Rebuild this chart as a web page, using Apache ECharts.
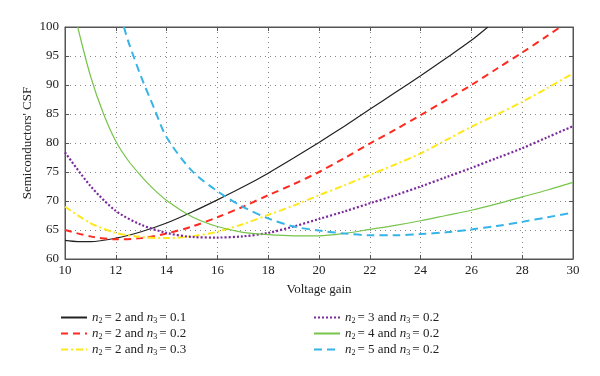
<!DOCTYPE html>
<html>
<head>
<meta charset="utf-8">
<script src="https://cdn.jsdelivr.net/npm/echarts@6/dist/echarts.min.js"></script>
<style>
  html, body { margin: 0; padding: 0; background: #fff; }
  #chart { width: 600px; height: 376px; }
</style>
</head>
<body>
<div id="chart"></div>
<script>
// [voltage gain, CSF]
var n2_2_n3_01 = [[10, 63.2], [10.5, 63.0], [11, 63.0], [12, 63.6], [13, 64.7], [14, 66.2], [15, 68.1], [16, 70.2],
    [17, 72.4], [18, 74.8], [19, 77.4], [20, 80.1], [21, 82.9], [22, 85.8], [23, 88.7], [24, 91.6], [25, 94.6],
    [26, 97.7], [26.65, 100]];
var n2_2_n3_02 = [[10, 65.0], [11, 63.9], [12, 63.4], [13, 63.6], [14, 64.4], [15, 65.6], [16, 67.2], [17, 69.0],
    [18, 71.0], [19, 72.9], [20, 75.0], [21, 77.4], [22, 79.9], [23, 82.3], [24, 84.8], [25, 87.4], [26, 90.0],
    [27, 92.8], [28, 95.6], [29, 98.5], [29.5, 100]];
var n2_2_n3_03 = [[10, 69.0], [11, 66.2], [12, 64.5], [13, 63.8], [14, 63.6], [15, 63.9], [16, 64.7], [17, 66.0],
    [18, 67.6], [19, 69.2], [20, 71.0], [21, 72.7], [22, 74.5], [23, 76.3], [24, 78.2], [25, 80.5], [26, 82.8],
    [27, 84.9], [28, 87.1], [29, 89.5], [30, 92.0]];
var n2_3_n3_02 = [[10, 78.4], [11, 72.6], [12, 68.3], [13, 65.9], [14, 64.5], [15, 63.8], [16, 63.7], [17, 63.9],
    [18, 64.5], [19, 65.6], [20, 66.9], [21, 68.2], [22, 69.6], [23, 71.0], [24, 72.5], [25, 74.1], [26, 75.7],
    [27, 77.4], [28, 79.1], [29, 81.0], [30, 82.9]];
var n2_4_n3_02 = [[10.5, 100], [11, 91.6], [11.5, 85.2], [12, 80.3], [12.5, 76.9], [13, 74.3], [13.5, 72.0],
    [14, 70.1], [15, 67.3], [16, 65.6], [17, 64.6], [18, 64.2], [19, 64.0], [20, 64.0], [21, 64.4], [22, 65.1],
    [23, 65.8], [24, 66.6], [25, 67.5], [26, 68.4], [27, 69.5], [28, 70.7], [29, 71.9], [30, 73.2]];
var n2_5_n3_02 = [[12.32, 100], [12.5, 97.4], [13, 91.4], [13.5, 86.1], [14, 81.0], [15, 75.2], [16, 71.7],
    [17, 69.0], [18, 67.0], [19, 65.6], [20, 64.9], [21, 64.4], [22, 64.1], [23, 64.1], [24, 64.3], [25, 64.6],
    [26, 65.1], [27, 65.7], [28, 66.4], [29, 67.2], [30, 68.0]];

var legendLeft = ['n2_2_n3_01', 'n2_2_n3_02', 'n2_2_n3_03'];
var legendRight = ['n2_3_n3_02', 'n2_4_n3_02', 'n2_5_n3_02'];
var labels = {
    n2_2_n3_01: ['2', '0.1'],
    n2_2_n3_02: ['2', '0.2'],
    n2_2_n3_03: ['2', '0.3'],
    n2_3_n3_02: ['3', '0.2'],
    n2_4_n3_02: ['4', '0.2'],
    n2_5_n3_02: ['5', '0.2']
};

var serif = '"Liberation Serif", "DejaVu Serif", serif';

function legendText(name) {
    var l = labels[name];
    return '{i|n}{s|2}{t|= ' + l[0] + ' and }{i|n}{s|3}{t|= ' + l[1] + '}';
}

var legendStyle = {
    fontFamily: serif,
    fontSize: 13,
    color: '#222',
    rich: {
        i: { fontFamily: serif, fontSize: 13, fontStyle: 'italic', color: '#222' },
        s: { fontFamily: serif, fontSize: 8, color: '#222', padding: [7, 2, 0, 0] },
        t: { fontFamily: serif, fontSize: 13, color: '#222' }
    }
};

function line(name, data, color, width, dash) {
    return {
        name: name,
        type: 'line',
        data: data,
        smooth: 0.3,
        symbol: 'none',
        xAxisIndex: 0,
        yAxisIndex: 0,
        lineStyle: { color: color, width: width, type: dash },
        itemStyle: { color: color }
    };
}

var legendBase = {
    orient: 'vertical', top: 306,
    itemWidth: 26, itemHeight: 14, itemGap: 2,
    itemStyle: { color: 'rgba(0,0,0,0)', borderColor: 'rgba(0,0,0,0)', borderWidth: 0 },
    formatter: legendText, textStyle: legendStyle
};

var option = {
    animation: false,
    backgroundColor: '#fff',
    grid: { left: 65, right: 27, top: 27, bottom: 117, show: true, borderColor: '#555', borderWidth: 1 },
    legend: [
        Object.assign({ data: legendLeft, left: 55 }, legendBase),
        Object.assign({ data: legendRight, left: 308 }, legendBase)
    ],
    xAxis: [
        {
            type: 'value', min: 10, max: 30, interval: 2,
            name: 'Voltage gain', nameLocation: 'middle', nameGap: 24,
            nameTextStyle: { fontFamily: serif, fontSize: 13, color: '#222' },
            axisLine: { lineStyle: { color: '#555' } },
            axisTick: { inside: true, length: 4, lineStyle: { color: '#555' } },
            axisLabel: { fontFamily: serif, fontSize: 13, color: '#222', margin: 5 },
            splitLine: { show: true, lineStyle: { color: '#888', type: [1, 4] } }
        },
        {
            type: 'value', min: 10, max: 30, interval: 2, position: 'top',
            axisLine: { lineStyle: { color: '#555' } },
            axisTick: { inside: true, length: 4, lineStyle: { color: '#555' } },
            axisLabel: { show: false },
            splitLine: { show: false }
        }
    ],
    yAxis: [
        {
            type: 'value', min: 60, max: 100, interval: 5,
            name: "Semiconductors' CSF", nameLocation: 'middle', nameGap: 31, nameMoveOverlap: false,
            nameTextStyle: { fontFamily: serif, fontSize: 13, color: '#222' },
            axisLine: { show: true, lineStyle: { color: '#555' } },
            axisTick: { show: true, inside: true, length: 4, lineStyle: { color: '#555' } },
            axisLabel: { fontFamily: serif, fontSize: 13, color: '#222', margin: 6 },
            splitLine: { show: true, lineStyle: { color: '#888', type: [1, 4] } }
        },
        {
            type: 'value', min: 60, max: 100, interval: 5, position: 'right',
            axisLine: { show: true, lineStyle: { color: '#555' } },
            axisTick: { show: true, inside: true, length: 4, lineStyle: { color: '#555' } },
            axisLabel: { show: false },
            splitLine: { show: false }
        }
    ],
    series: [
        line('n2_2_n3_01', n2_2_n3_01, '#222222', 1.2, 'solid'),
        line('n2_2_n3_02', n2_2_n3_02, '#ff2a1f', 2, [7, 5]),
        line('n2_2_n3_03', n2_2_n3_03, '#ffe81a', 2, [7, 3, 2, 3]),
        line('n2_3_n3_02', n2_3_n3_02, '#7a2a9e', 2.2, [2, 2]),
        line('n2_4_n3_02', n2_4_n3_02, '#77c44a', 1.2, 'solid'),
        line('n2_5_n3_02', n2_5_n3_02, '#36b4e8', 2, [8, 5])
    ]
};

var chart = echarts.init(document.getElementById('chart'));
chart.setOption(option);
</script>
</body>
</html>
